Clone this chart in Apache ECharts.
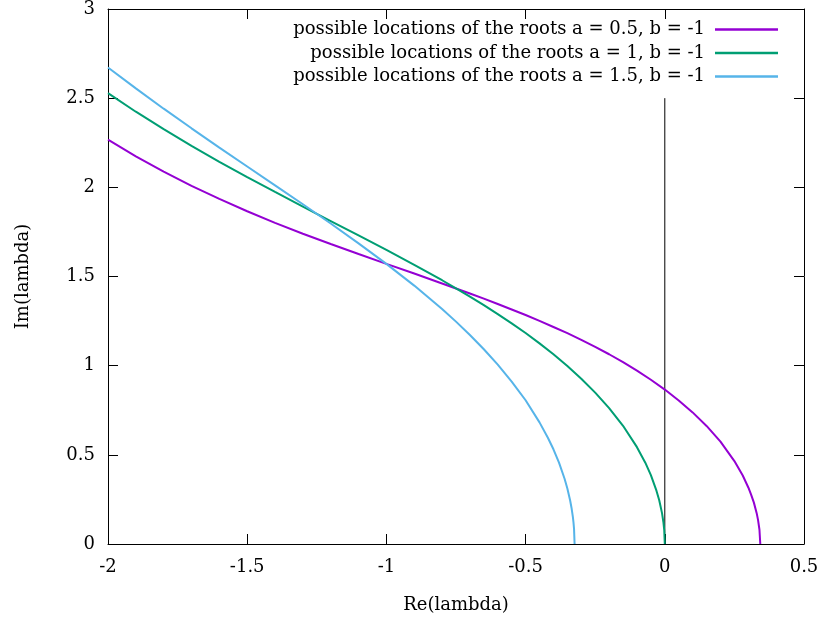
<!DOCTYPE html>
<html>
<head>
<meta charset="utf-8">
<script src="https://cdn.jsdelivr.net/npm/echarts@6/dist/echarts.min.js"></script>
<style>
html,body{margin:0;padding:0;background:#fff;}
#chart{width:825px;height:621px;}
</style>
</head>
<body>
<div id="chart"></div>
<script>
// Series names
const seriesNames = [
  'possible locations of the roots a = 0.5, b = -1',
  'possible locations of the roots a = 1, b = -1',
  'possible locations of the roots a = 1.5, b = -1'
];
const seriesColors = ['#9400d3', '#009e73', '#56b4e9'];

// Re(lambda) / Im(lambda) pairs
const rootsA05 = [
  [-2, 2.267], [-1.9, 2.174], [-1.8, 2.088], [-1.7, 2.008], [-1.6, 1.935], [-1.5, 1.866],
  [-1.4, 1.801], [-1.3, 1.740], [-1.2, 1.682], [-1.1, 1.626], [-1.0, 1.571], [-0.9, 1.517],
  [-0.8, 1.461], [-0.75, 1.433], [-0.7, 1.405], [-0.65, 1.376], [-0.6, 1.346], [-0.55, 1.315],
  [-0.5, 1.284], [-0.45, 1.251], [-0.4, 1.217], [-0.35, 1.182], [-0.3, 1.145], [-0.25, 1.105],
  [-0.2, 1.064], [-0.15, 1.020], [-0.1, 0.972], [-0.05, 0.921], [0, 0.866], [0.05, 0.805],
  [0.1, 0.738], [0.15, 0.662], [0.2, 0.574], [0.25, 0.465], [0.28, 0.384], [0.3, 0.317],
  [0.31, 0.277], [0.32, 0.232], [0.33, 0.173], [0.335, 0.134], [0.34, 0.080], [0.343, 0]
];
const rootsA10 = [
  [-2, 2.528], [-1.9, 2.424], [-1.8, 2.326], [-1.7, 2.232], [-1.6, 2.143], [-1.5, 2.057],
  [-1.4, 1.974], [-1.3, 1.892], [-1.2, 1.811], [-1.1, 1.730], [-1.0, 1.649], [-0.9, 1.565],
  [-0.8, 1.479], [-0.75, 1.433], [-0.7, 1.387], [-0.65, 1.339], [-0.6, 1.289], [-0.55, 1.237],
  [-0.5, 1.183], [-0.45, 1.125], [-0.4, 1.064], [-0.35, 0.998], [-0.3, 0.927], [-0.25, 0.849],
  [-0.2, 0.762], [-0.15, 0.663], [-0.1, 0.543], [-0.07, 0.456], [-0.05, 0.386], [-0.03, 0.299],
  [-0.02, 0.245], [-0.01, 0.173], [-0.005, 0.122], [-0.002, 0.077], [0, 0]
];
const rootsA15 = [
  [-2, 2.672], [-1.9, 2.555], [-1.8, 2.441], [-1.7, 2.331], [-1.6, 2.223], [-1.5, 2.117],
  [-1.4, 2.011], [-1.3, 1.905], [-1.2, 1.797], [-1.1, 1.686], [-1.0, 1.571], [-0.9, 1.449],
  [-0.8, 1.318], [-0.75, 1.247], [-0.7, 1.172], [-0.65, 1.092], [-0.6, 1.006], [-0.55, 0.911],
  [-0.5, 0.806], [-0.45, 0.682], [-0.42, 0.596], [-0.4, 0.531], [-0.38, 0.456], [-0.36, 0.366],
  [-0.35, 0.311], [-0.34, 0.244], [-0.335, 0.202], [-0.33, 0.149], [-0.328, 0.121],
  [-0.326, 0.085], [-0.324, 0]
];
// vertical reference line at Re = 0
const zeroLine = [[0, 0], [0, 2.5]];

const xTicks = ['-2', '-1.5', '-1', '-0.5', '0', '0.5'];
const yTicks = ['0', '0.5', '1', '1.5', '2', '2.5', '3'];

const FONT = 'DejaVu Serif';
const FS = 18;
const chart = echarts.init(document.getElementById('chart'), null, {renderer: 'canvas'});

const axisLine = {show: true, onZero: false, lineStyle: {color: '#000', width: 1}};
const tickIn = {show: true, inside: true, length: 10, lineStyle: {color: '#000', width: 1}};

function curve(i, data) {
  return {name: seriesNames[i], type: 'line', data: data, showSymbol: false, symbol: 'none',
    smooth: false, lineStyle: {color: seriesColors[i], width: 2},
    itemStyle: {color: seriesColors[i]}, z: 3};
}

const option = {
  backgroundColor: '#fff',
  animation: false,
  grid: {left: 108, right: 21, top: 9, bottom: 77, containLabel: false},
  legend: {
    orient: 'vertical',
    right: 42,
    top: 13,
    align: 'right',
    itemWidth: 63,
    itemHeight: 2.5,
    itemGap: 0.5,
    icon: 'rect',
    data: seriesNames,
    textStyle: {fontFamily: FONT, fontSize: FS, color: '#000', lineHeight: 23, padding: [0, 5, 0, 0]}
  },
  xAxis: [{
    type: 'value', min: -2, max: 0.5, interval: 0.5,
    axisLine: axisLine, axisTick: tickIn, splitLine: {show: false},
    axisLabel: {fontFamily: FONT, fontSize: FS, color: '#000', margin: 14,
      formatter: v => xTicks[Math.round((v + 2) / 0.5)]},
    name: 'Re(lambda)', nameLocation: 'middle', nameGap: 52,
    nameTextStyle: {fontFamily: FONT, fontSize: FS, color: '#000'}
  }, {
    type: 'value', position: 'top', min: -2, max: 0.5, interval: 0.5,
    axisLine: axisLine, axisTick: tickIn, splitLine: {show: false},
    axisLabel: {show: false}
  }],
  yAxis: [{
    type: 'value', min: 0, max: 3, interval: 0.5,
    axisLine: axisLine, axisTick: tickIn, splitLine: {show: false},
    axisLabel: {fontFamily: FONT, fontSize: FS, color: '#000', margin: 13,
      formatter: v => yTicks[Math.round(v / 0.5)]},
    name: 'Im(lambda)', nameLocation: 'middle', nameGap: 76, nameRotate: 90,
    nameTextStyle: {fontFamily: FONT, fontSize: FS, color: '#000'}
  }, {
    type: 'value', position: 'right', min: 0, max: 3, interval: 0.5,
    axisLine: axisLine, axisTick: tickIn, splitLine: {show: false},
    axisLabel: {show: false}
  }],
  series: [
    curve(0, rootsA05),
    curve(1, rootsA10),
    curve(2, rootsA15),
    {name: 'zero', type: 'line', data: zeroLine, showSymbol: false, symbol: 'none',
      lineStyle: {color: '#000', width: 1}, z: 2, silent: true}
  ]
};
chart.setOption(option);
</script>
</body>
</html>
